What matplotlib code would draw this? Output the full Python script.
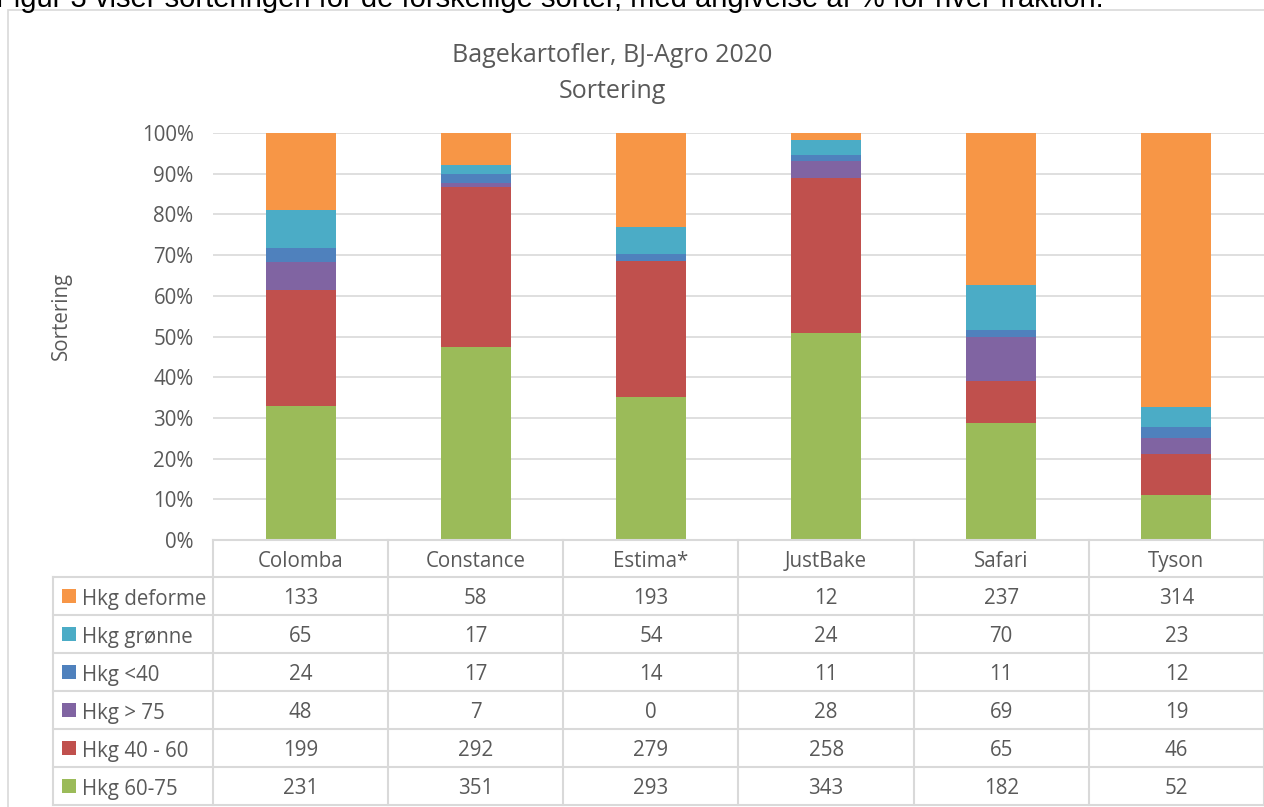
import matplotlib.pyplot as plt
import numpy as np
from matplotlib.lines import Line2D
from matplotlib.patches import Rectangle

plt.rcParams['font.family'] = ['Open Sans', 'DejaVu Sans']

# Data
varieties = ["Colomba", "Constance", "Estima*", "JustBake", "Safari", "Tyson"]
series_names = ["Hkg 60-75", "Hkg 40 - 60", "Hkg > 75", "Hkg <40", "Hkg grønne", "Hkg deforme"]
hkg_60_75 = [231, 351, 293, 343, 182, 52]
hkg_40_60 = [199, 292, 279, 258, 65, 46]
hkg_over_75 = [48, 7, 0, 28, 69, 19]
hkg_under_40 = [24, 17, 14, 11, 11, 12]
hkg_gronne = [65, 17, 54, 24, 70, 23]
hkg_deforme = [133, 58, 193, 12, 237, 314]
colors = ["#9BBB59", "#C0504D", "#8064A2", "#4F81BD", "#4BACC6", "#F79646"]

series = [hkg_60_75, hkg_40_60, hkg_over_75, hkg_under_40, hkg_gronne, hkg_deforme]
W, H = 1264, 807
fig = plt.figure(figsize=(W / 100, H / 100), dpi=100)

def fx(px):
    return px / W

def fy(py):
    return 1 - py / H

txt = "#595959"
grid = "#D9D9D9"
fs = 14.8
dy = 3  # small downward nudge so text sits centred like the original

# body text above the chart (cut by the page crop, as in the original)
fig.text(fx(-4), fy(7), "Figur 3 viser sorteringen for de forskellige sorter, med angivelse af % for hver fraktion.",
         fontsize=21, color="black", ha="left", va="baseline", family=['Liberation Sans', 'DejaVu Sans'])

# chart border
fig.add_artist(Rectangle((fx(8), fy(830)), fx(1300), 820 / H, transform=fig.transFigure,
                         fill=False, edgecolor=grid, lw=1.2))

ax_l, ax_r, ax_t, ax_b = 213, 1264, 133, 540
ax = fig.add_axes([fx(ax_l), fy(ax_b), fx(ax_r - ax_l), (ax_b - ax_t) / H])

totals = np.sum(series, axis=0)
x = np.arange(len(varieties))
bottom = np.zeros(len(varieties))
for vals, c in zip(series, colors):
    pct = np.array(vals) / totals * 100
    ax.bar(x, pct, 0.4, bottom=bottom, color=c, zorder=3)
    bottom += pct

ax.set_xlim(-0.5, len(varieties) - 0.5)
ax.set_ylim(0, 100)
ax.set_yticks(np.arange(0, 101, 10))
ax.set_yticklabels([f"{v}%" for v in range(0, 101, 10)], color=txt, fontsize=fs)
ax.tick_params(axis='y', length=0, pad=14)
ax.set_xticks([])
ax.yaxis.grid(True, color=grid, lw=1.2, zorder=0)
for s in ax.spines.values():
    s.set_visible(False)

fig.text(fx(61), fy(316), "Sortering", rotation=90, ha="center", va="center", color=txt, fontsize=fs)
fig.text(fx(612), fy(52 + dy), "Bagekartofler, BJ-Agro 2020", ha="center", va="center", color=txt, fontsize=18)
fig.text(fx(612), fy(88 + dy), "Sortering", ha="center", va="center", color=txt, fontsize=18)

# data table
col_w = (ax_r - ax_l) / len(varieties)
row_top = 540
hdr_h = 37
row_h = 38
leg_l = 53
n_rows = len(series)
bottom_y = row_top + hdr_h + n_rows * row_h

def line(x0, y0, x1, y1):
    fig.add_artist(Line2D([fx(x0), fx(x1)], [fy(y0), fy(y1)], transform=fig.transFigure, color=grid, lw=1.5))

line(ax_l, row_top, ax_r, row_top)
for i in range(n_rows + 1):
    y = row_top + hdr_h + i * row_h
    line(leg_l, y, ax_r, y)
line(leg_l, row_top + hdr_h, leg_l, bottom_y)
for j in range(len(varieties) + 1):
    xx = ax_l + j * col_w
    line(xx, row_top, xx, bottom_y)

for j, v in enumerate(varieties):
    fig.text(fx(ax_l + (j + 0.5) * col_w), fy(row_top + hdr_h / 2 + dy), v, ha="center", va="center",
             color=txt, fontsize=fs)

# rows listed top to bottom: deforme first
for r, idx in enumerate(range(n_rows - 1, -1, -1)):
    yc = row_top + hdr_h + (r + 0.5) * row_h
    fig.add_artist(Rectangle((fx(62), fy(yc + 7)), fx(14), 14 / H, transform=fig.transFigure,
                             color=colors[idx], lw=0))
    fig.text(fx(82), fy(yc + dy), series_names[idx], ha="left", va="center", color=txt, fontsize=fs)
    for j, val in enumerate(series[idx]):
        fig.text(fx(ax_l + (j + 0.5) * col_w), fy(yc + dy), str(val), ha="center", va="center",
                 color=txt, fontsize=fs)

fig.savefig("out.png", dpi=100)
